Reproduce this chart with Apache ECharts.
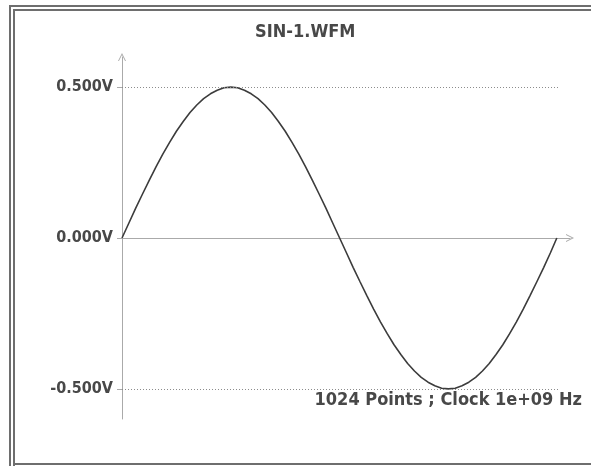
<!DOCTYPE html>
<html>
<head>
<meta charset="utf-8">
<script src="https://cdn.jsdelivr.net/npm/echarts@6/dist/echarts.min.js"></script>
<style>
  html, body { margin: 0; padding: 0; background: #fff; overflow: hidden; }
  #chart { width: 591px; height: 466px; }
</style>
</head>
<body>
<div id="chart"></div>
<script>
const chartTitle = "SIN-1.WFM";
const footnote = "1024 Points ; Clock 1e+09 Hz";

// sample index every 16 points (last one is point 1023)
const sampleIndex = [
  0, 16, 32, 48, 64, 80, 96, 112, 128, 144, 160, 176, 192, 208, 224, 240,
  256, 272, 288, 304, 320, 336, 352, 368, 384, 400, 416, 432, 448, 464, 480, 496,
  512, 528, 544, 560, 576, 592, 608, 624, 640, 656, 672, 688, 704, 720, 736, 752,
  768, 784, 800, 816, 832, 848, 864, 880, 896, 912, 928, 944, 960, 976, 992, 1008,
  1023,
];

// voltage (V)
const voltage = [
  0, 0.049, 0.098, 0.145, 0.191, 0.236, 0.278, 0.317, 0.354, 0.386, 0.416, 0.441, 0.462, 0.478, 0.490, 0.498,
  0.500, 0.498, 0.490, 0.478, 0.462, 0.441, 0.416, 0.386, 0.354, 0.317, 0.278, 0.236, 0.191, 0.145, 0.098, 0.049,
  0, -0.049, -0.098, -0.145, -0.191, -0.236, -0.278, -0.317, -0.354, -0.386, -0.416, -0.441, -0.462, -0.478, -0.490, -0.498,
  -0.500, -0.498, -0.490, -0.478, -0.462, -0.441, -0.416, -0.386, -0.354, -0.317, -0.278, -0.236, -0.191, -0.145, -0.098, -0.049,
  0,
];

const yTicks = [-0.5, 0, 0.5];
const gridEnd = 1030;

const font = "'DejaVu Sans Condensed', 'DejaVu Sans', sans-serif";
const textColor = "#484848";
const axisColor = "#aaaaaa";
const frameColor = "#6e6e6e";
const chevron = "path://M0,10 L5,0 L10,10 L8.8,10 L5,2.6 L1.2,10 Z";

const chart = echarts.init(document.getElementById("chart"), undefined, { renderer: "canvas" });

chart.setOption({
  animation: false,
  backgroundColor: "#fff",
  title: {
    text: chartTitle,
    left: 255,
    top: 23,
    padding: 0,
    textStyle: { fontFamily: font, fontWeight: "bold", fontSize: 18, color: textColor },
  },
  grid: { left: 122, right: 21, top: 57, bottom: 47 },
  xAxis: {
    type: "value",
    min: 0,
    max: 1054,
    axisLine: {
      show: true,
      symbol: ["none", chevron],
      symbolSize: [15, 8],
      lineStyle: { color: axisColor, width: 1 },
    },
    axisTick: { show: false },
    axisLabel: { show: false },
    splitLine: { show: false },
  },
  yAxis: {
    type: "value",
    min: -0.6,
    max: 0.6,
    axisLine: {
      show: true,
      symbol: ["none", chevron],
      symbolSize: [15, 8],
      lineStyle: { color: axisColor, width: 1 },
    },
    axisTick: {
      show: true,
      customValues: yTicks,
      length: 5,
      lineStyle: { color: axisColor },
    },
    axisLabel: {
      customValues: yTicks,
      margin: 9,
      formatter: (value) => value.toFixed(3) + "V",
      fontFamily: font,
      fontWeight: "bold",
      fontSize: 16,
      color: textColor,
    },
    splitLine: { show: false },
  },
  series: [
    {
      type: "line",
      data: sampleIndex.map((x, i) => [x, voltage[i]]),
      showSymbol: false,
      lineStyle: { color: "#3c3c3c", width: 1.6 },
      markLine: {
        silent: true,
        symbol: "none",
        label: { show: false },
        lineStyle: { color: "#8c8c8c", type: [1, 2], width: 1 },
        data: [
          [{ coord: [0, 0.5] }, { coord: [gridEnd, 0.5] }],
          [{ coord: [0, -0.5] }, { coord: [gridEnd, -0.5] }],
        ],
      },
    },
  ],
  graphic: [
    {
      type: "text",
      right: 9,
      top: 391,
      style: { text: footnote, font: `bold 18px ${font}`, fill: textColor },
    },
    // double frame on the left/top, single line at bottom
    { type: "line", shape: { x1: 10, y1: 5, x2: 10, y2: 466 }, style: { stroke: frameColor, lineWidth: 2 } },
    { type: "line", shape: { x1: 14, y1: 9, x2: 14, y2: 466 }, style: { stroke: frameColor, lineWidth: 2 } },
    { type: "line", shape: { x1: 9, y1: 6, x2: 591, y2: 6 }, style: { stroke: frameColor, lineWidth: 2 } },
    { type: "line", shape: { x1: 13, y1: 10, x2: 591, y2: 10 }, style: { stroke: frameColor, lineWidth: 2 } },
    { type: "line", shape: { x1: 13, y1: 464, x2: 591, y2: 464 }, style: { stroke: frameColor, lineWidth: 2 } },
  ],
});

window.addEventListener("resize", () => chart.resize());
</script>
</body>
</html>
